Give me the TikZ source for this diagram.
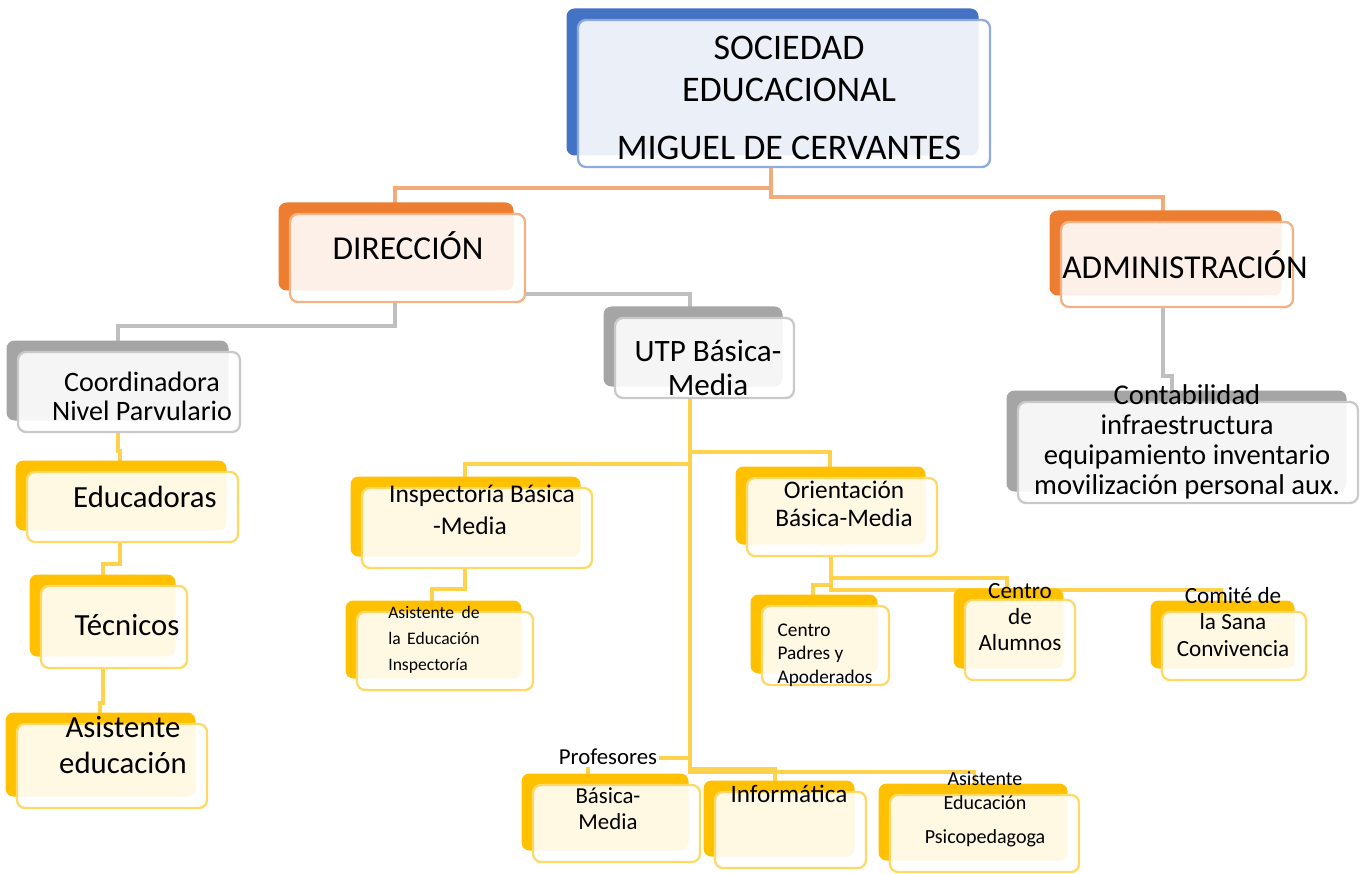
\documentclass[tikz,border=0pt]{standalone}
\usepackage{fontspec}
\setmainfont{Carlito}
\usetikzlibrary{fit,calc,shadows,backgrounds}

\definecolor{cBlue}{HTML}{4472C4}
\definecolor{cBlueL}{HTML}{8FAADC}
\definecolor{cOrange}{HTML}{ED7D31}
\definecolor{cOrangeL}{HTML}{F4B183}
\definecolor{cGray}{HTML}{A5A5A5}
\definecolor{cGrayL}{HTML}{C9C9C9}
\definecolor{cGold}{HTML}{FFC000}
\definecolor{cGoldL}{HTML}{FFD966}
\definecolor{lnOrange}{HTML}{F4AB7C}
\definecolor{lnGray}{HTML}{BFBFBF}
\definecolor{lnGold}{HTML}{FFD24D}

\newcommand\fsz[2]{\fontsize{#1}{#2}\selectfont}

\tikzset{
  card/.style 2 args={rounded corners=0.16cm, draw=#2, line width=1.3pt,
    fill=white, fill opacity=0.89, inner sep=0pt,
    copy shadow={fill=#1, draw=none, fill opacity=1, shadow xshift=-0.23cm, shadow yshift=0.23cm}},
  bluecard/.style={card={cBlue}{cBlueL}},
  orangecard/.style={card={cOrange}{cOrangeL}},
  graycard/.style={card={cGray}{cGrayL}},
  goldcard/.style={card={cGold}{cGoldL}},
  link/.style={draw=#1, line width=2.1pt},
  lbl/.style={inner sep=0pt, align=center, text=black},
}

\begin{document}
\begin{tikzpicture}[x=0.02cm,y=-0.02cm]
\useasboundingbox (0,0) rectangle (1362,874);

% boxes
\node[bluecard, fit={(578,20) (990,167)}] (soc) {};
\node[orangecard, fit={(290,214) (525,302)}] (dir) {};
\node[orangecard, fit={(1061,222) (1293,307)}] (adm) {};
\node[graycard, fit={(18,352) (240,432)}] (coord) {};
\node[graycard, fit={(615,318) (794,398)}] (utp) {};
\node[graycard, fit={(1018,402) (1358,503)}] (cont) {};
\node[goldcard, fit={(27,472) (238,542)}] (educ) {};
\node[goldcard, fit={(41,586) (187,668)}] (tec) {};
\node[goldcard, fit={(17,724) (207,808)}] (asis) {};
\node[goldcard, fit={(362,488) (592,568)}] (insp) {};
\node[goldcard, fit={(357,612) (533,690)}] (asinsp) {};
\node[goldcard, fit={(747,478) (937,556)}] (ori) {};
\node[goldcard, fit={(762,606) (889,685)}] (pad) {};
\node[goldcard, fit={(965,600) (1075,680)}] (alu) {};
\node[goldcard, fit={(1162,612) (1306,680)}] (com) {};
\node[goldcard, fit={(533,785) (700,862)}] (prof) {};
\node[goldcard, fit={(715,792) (866,868)}] (inf) {};
\node[goldcard, fit={(890,795) (1079,872)}] (psi) {};

% texts
\node[lbl, font=\fsz{20.5}{23.8}] (tsoc) at (789,98) {SOCIEDAD\\EDUCACIONAL\\[9pt]MIGUEL DE CERVANTES};
\node[lbl, font=\fsz{19}{22}] (tdir) at (408,246) {DIRECCIÓN};
\node[lbl, font=\fsz{19}{22}] (tadm) at (1185,265) {ADMINISTRACIÓN};
\node[lbl, font=\fsz{16}{16.5}] (tcoord) at (142,396) {Coordinadora\\Nivel Parvulario};
\node[lbl, font=\fsz{17.5}{20}] (teduc) at (145,497) {Educadoras};
\node[lbl, font=\fsz{17.5}{20}] (ttec) at (127,625) {Técnicos};
\node[lbl, font=\fsz{17.5}{20.4}] (tasis) at (123,745) {Asistente\\educación};
\node[lbl, font=\fsz{17.7}{19.3}] (tutp) at (708,368) {UTP Básica-\\Media};
\node[lbl, align=left, font=\fsz{14.5}{18}] (tinsp) at (482,510) {Inspectoría Básica\\\hspace*{25pt}-Media};
\node[lbl, align=left, text width=52pt, font=\fsz{10}{14.7}] (tasinsp) at (434,640) {Asistente\hfill de\\la\hfill Educación\\Inspectoría};
\node[lbl, font=\fsz{14.4}{16}] (tori) at (844,504) {Orientación\\Básica-Media};
\node[lbl, align=left, font=\fsz{11}{13.3}] (tpad) at (825,655) {Centro\\Padres y\\Apoderados};
\node[lbl, font=\fsz{13.2}{15}] (talu) at (1020,617) {Centro\\de\\Alumnos};
\node[lbl, font=\fsz{13.2}{15}] (tcom) at (1233,622) {Comité de\\la Sana\\Convivencia};
\node[lbl, font=\fsz{16.3}{17}] (tcont) at (1187,442) {Contabilidad\\infraestructura\\equipamiento inventario\\movilización personal aux.};
\node[lbl, fill=white, inner sep=1pt, font=\fsz{13}{15}] (tprof) at (608,757) {Profesores};
\node[lbl, font=\fsz{13}{14.7}] (tbm) at (608,809) {Básica-\\Media};
\node[lbl, font=\fsz{14.3}{16}] (tinf) at (789,794) {Informática};
\node[lbl, font=\fsz{11.4}{13.6}] (tpsi) at (985,809) {Asistente\\Educación\\[5.7pt]Psicopedagoga};

% connectors
\begin{scope}[on background layer]
\draw[link=lnOrange] ($(soc.south)+(-13,0)$) -- ++(0,20) -| ($(dir.north)+(-12.5,0)$);
\draw[link=lnOrange] ($(soc.south)+(-13,0)$) -- ++(0,29) -| ($(adm.north)+(-14,0)$);
\draw[link=lnGray] ($(dir.south)+(-12.5,0)$) -- ++(0,23) -| ($(coord.north)+(-11,0)$);
\draw[link=lnGray] ($(dir.south east)+(0,-9)$) -| ($(utp.north)+(-14.5,0)$);
\draw[link=lnGray] ($(adm.south)+(-14,0)$) -- ++(0,68) -| ($(cont.north)+(-16,0)$);
\draw[link=lnGold] ($(coord.south)+(-11,0)$) -- ++(0,18) -| ($(educ.north)+(-12.5,0)$);
\draw[link=lnGold] ($(educ.south)+(-12.5,0)$) -- ++(0,21) -| ($(tec.north)+(-11,0)$);
\draw[link=lnGold] ($(tec.south)+(-11,0)$) -- ++(0,34) -| ($(asis.north)+(-12,0)$);
\draw[link=lnGold] ($(utp.south)+(-14.5,0)$) -- ++(0,65) -| ($(insp.north)+(-12,0)$);
\draw[link=lnGold] ($(utp.south)+(-14.5,0)$) -- ++(0,53) -| ($(ori.north)+(-12,0)$);
\draw[link=lnGold] ($(utp.south)+(-14.5,0)$) -- ++(0,359) -| ($(prof.north)+(-28.5,0)$);
\draw[link=lnGold] ($(utp.south)+(-14.5,0)$) -- ++(0,370) -| ($(inf.north)+(-15.5,0)$);
\draw[link=lnGold] ($(utp.south)+(-14.5,0)$) -- ++(0,373) -| ($(psi.north)+(-10,0)$);
\draw[link=lnGold] ($(insp.south)+(-12,0)$) -- ++(0,20) -| ($(asinsp.north)+(-13,0)$);
\draw[link=lnGold] ($(ori.south)+(-11,0)$) -- ++(0,28) -| ($(pad.north)+(-12.5,0)$);
\draw[link=lnGold] ($(ori.south)+(-11,0)$) -- ++(0,21) -| ($(alu.north)+(-13,0)$);
\draw[link=lnGold] ($(ori.south)+(-11,0)$) -- ++(0,33) -| ($(com.north)+(-13,0)$);
\end{scope}
\end{tikzpicture}
\end{document}
